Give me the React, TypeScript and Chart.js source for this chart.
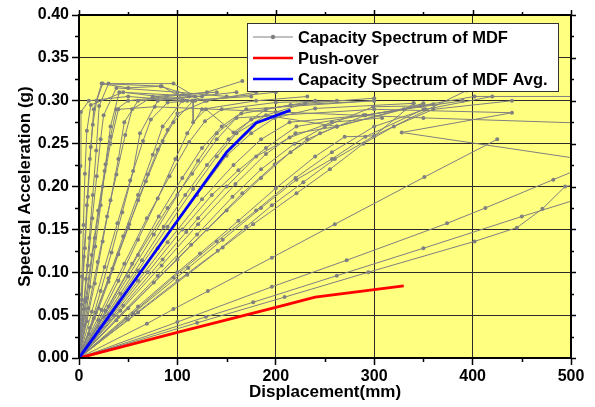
import { useEffect, useRef } from 'react';
import { Chart, registerables } from 'chart.js';

Chart.register(...registerables);

type P = [number, number];

// ---- Capacity Spectrum of MDF (individual records) ----
const mdf01: P[] = [[0, 0], [0.5, 0.074], [1, 0.147], [1.5, 0.224], [2, 0.287], [10, 0.3], [50, 0.305], [105, 0.3]];
const mdf02: P[] = [[0, 0], [1.5, 0.04], [3, 0.095], [4.5, 0.155], [6, 0.215], [8, 0.265], [12, 0.295], [45, 0.31], [115, 0.3]];
const mdf03: P[] = [[0, 0], [2.5, 0.062], [5, 0.118], [8, 0.178], [11, 0.232], [14, 0.272], [18, 0.3], [24, 0.32], [83, 0.317], [128, 0.3]];
const mdf04: P[] = [[0, 0], [3.5, 0.045], [7, 0.092], [10.5, 0.14], [14, 0.19], [17.5, 0.242], [20.5, 0.294], [30, 0.32], [96, 0.32], [118, 0.305]];
const mdf05: P[] = [[0, 0], [4.5, 0.057], [9, 0.108], [13.5, 0.163], [18, 0.212], [22, 0.255], [25, 0.283], [38, 0.315], [100, 0.31], [150, 0.305]];
const mdf06: P[] = [[0, 0], [5.5, 0.038], [11, 0.083], [16.5, 0.13], [22, 0.178], [27, 0.226], [32, 0.27], [41, 0.31], [125, 0.305]];
const mdf07: P[] = [[0, 0], [6.5, 0.066], [13, 0.12], [19.5, 0.172], [26, 0.218], [32, 0.258], [38, 0.29], [50, 0.3], [130, 0.31], [166, 0.323]];
const mdf08: P[] = [[0, 0], [8, 0.043], [16, 0.087], [24, 0.136], [32, 0.184], [40, 0.232], [46, 0.275], [60, 0.3], [112, 0.305]];
const mdf09: P[] = [[0, 0], [9.5, 0.058], [19, 0.112], [28.5, 0.165], [38, 0.214], [47, 0.26], [54, 0.29], [75, 0.305], [140, 0.31]];
const mdf10: P[] = [[0, 0], [11, 0.035], [22, 0.078], [33, 0.123], [44, 0.17], [55, 0.218], [62, 0.262], [80, 0.3], [160, 0.31]];
const mdf11: P[] = [[0, 0], [13, 0.054], [26, 0.106], [39, 0.157], [52, 0.207], [65, 0.253], [73, 0.278], [90, 0.298], [118, 0.3], [200, 0.31]];
const mdf12: P[] = [[0, 0], [15, 0.046], [30, 0.093], [45, 0.142], [60, 0.19], [75, 0.237], [85, 0.27], [105, 0.3], [175, 0.305]];
const mdf13: P[] = [[0, 0], [17, 0.053], [34, 0.104], [51, 0.156], [68, 0.206], [85, 0.253], [96, 0.275], [116, 0.3], [116, 0.275], [129, 0.29], [157, 0.263], [190, 0.29], [240, 0.3]];
const mdf14: P[] = [[0, 0], [20, 0.044], [40, 0.09], [60, 0.138], [80, 0.186], [98, 0.232], [110, 0.262], [125, 0.29], [180, 0.3], [232, 0.305]];
const mdf15: P[] = [[0, 0], [23, 0.056], [46, 0.11], [69, 0.163], [92, 0.212], [112, 0.252], [128, 0.276], [145, 0.29], [200, 0.298], [262, 0.3]];
const mdf16: P[] = [[0, 0], [3, 0.068], [6, 0.128], [9, 0.188], [12, 0.246], [15, 0.29], [23, 0.32], [50, 0.315], [84, 0.317], [110, 0.3]];
const mdf17: P[] = [[0, 0], [25, 0.048], [50, 0.095], [76, 0.144], [100, 0.19], [121, 0.23], [140, 0.262], [165, 0.285], [215, 0.295], [300, 0.3]];
const mdf18: P[] = [[0, 0], [30, 0.051], [60, 0.102], [90, 0.153], [116, 0.197], [140, 0.235], [160, 0.262], [190, 0.283], [262, 0.27]];
const mdf19: P[] = [[0, 0], [40, 0.064], [80, 0.128], [120, 0.19], [150, 0.236], [175, 0.262], [199, 0.28], [240, 0.291], [340, 0.297]];
const mdf20: P[] = [[0, 0], [30, 0.045], [60, 0.09], [90, 0.135], [125, 0.185], [157, 0.225], [185, 0.255], [214, 0.275], [291, 0.283], [402, 0.305], [510, 0.305]];
const mdf21: P[] = [[0, 0], [45, 0.061], [85, 0.115], [109, 0.147], [121, 0.163], [150, 0.2], [180, 0.235], [214, 0.257], [257, 0.275], [308, 0.28]];
const mdf22: P[] = [[0, 0], [40, 0.048], [80, 0.096], [120, 0.144], [156, 0.188], [185, 0.22], [219, 0.25], [250, 0.27], [299, 0.293], [347, 0.294]];
const mdf23: P[] = [[0, 0], [50, 0.058], [100, 0.115], [130, 0.15], [166, 0.192], [199, 0.226], [232, 0.255], [262, 0.27], [350, 0.297]];
const mdf24: P[] = [[0, 0], [60, 0.06], [100, 0.1], [123, 0.122], [162, 0.16], [200, 0.198], [240, 0.235], [270, 0.258], [300, 0.259], [340, 0.297]];
const mdf25: P[] = [[0, 0], [55, 0.052], [111, 0.105], [146, 0.138], [185, 0.175], [221, 0.208], [257, 0.232], [291, 0.258], [350, 0.29]];
const mdf26: P[] = [[0, 0], [50, 0.045], [100, 0.09], [141, 0.125], [170, 0.153], [196, 0.178], [228, 0.205], [260, 0.232], [300, 0.259], [394, 0.312]];
const mdf27: P[] = [[0, 0], [60, 0.053], [110, 0.097], [146, 0.129], [177, 0.156], [221, 0.192], [255, 0.22], [289, 0.25], [320, 0.27], [360, 0.29], [440, 0.3]];
const mdf28: P[] = [[0, 0], [30, 0.06], [60, 0.12], [90, 0.175], [115, 0.215], [140, 0.255], [160, 0.28], [300, 0.29], [440, 0.286], [328, 0.263], [510, 0.232]];
const mdf29: P[] = [[0, 0], [8, 0.07], [16, 0.14], [24, 0.2], [32, 0.25], [40, 0.29], [77, 0.293], [200, 0.287], [350, 0.28], [510, 0.274]];
const mdf30: P[] = [[0, 0], [69, 0.04], [96, 0.057], [131, 0.078], [196, 0.117], [260, 0.156], [351, 0.211], [425, 0.255]];
const mdf31: P[] = [[0, 0], [100, 0.042], [196, 0.083], [272, 0.114], [374, 0.157], [413, 0.175], [482, 0.208], [520, 0.226]];
const mdf32: P[] = [[0, 0], [129, 0.048], [177, 0.065], [262, 0.096], [350, 0.128], [450, 0.165], [520, 0.19]];
const mdf33: P[] = [[0, 0], [120, 0.041], [209, 0.071], [294, 0.1], [402, 0.136], [445, 0.152], [471, 0.174], [494, 0.2], [520, 0.205]];
const mdf34: P[] = [[0, 0], [27, 0.055], [54, 0.11], [81, 0.165], [105, 0.21], [125, 0.245], [145, 0.27], [170, 0.29], [300, 0.3]];
const mdf35: P[] = [[0, 0], [35, 0.05], [70, 0.1], [105, 0.15], [135, 0.19], [162, 0.219], [190, 0.245], [221, 0.27], [289, 0.283], [390, 0.3]];
const mdf36: P[] = [[0, 0], [10, 0.028], [20, 0.058], [30, 0.089], [40, 0.121], [50, 0.152], [60, 0.184], [70, 0.214], [80, 0.243], [90, 0.266], [100, 0.285], [130, 0.3], [180, 0.31]];
const mdf37: P[] = [[0, 0], [38, 0.044], [76, 0.088], [114, 0.132], [150, 0.172], [185, 0.21], [215, 0.24], [245, 0.262], [291, 0.283], [360, 0.296]];
const mdf38: P[] = [[0, 0], [42, 0.055], [84, 0.108], [121, 0.156], [159, 0.203], [190, 0.238], [220, 0.262], [262, 0.27], [330, 0.29]];
const mdf39: P[] = [[0, 0], [48, 0.046], [96, 0.094], [140, 0.136], [180, 0.172], [220, 0.21], [257, 0.24], [300, 0.27], [352, 0.29], [420, 0.305]];
const mdf40: P[] = [[0, 0], [20, 0.036], [42, 0.075], [64, 0.114], [86, 0.153], [108, 0.19], [130, 0.225], [152, 0.255], [175, 0.278], [230, 0.297], [300, 0.303]];

const mdfSeries: P[][] = [
  mdf01, mdf02, mdf03, mdf04, mdf05, mdf06, mdf07, mdf08, mdf09, mdf10, mdf11, mdf12,
  mdf13, mdf14, mdf15, mdf16, mdf17, mdf18, mdf19, mdf20, mdf21, mdf22, mdf23, mdf24,
  mdf25, mdf26, mdf27, mdf28, mdf29, mdf30, mdf31, mdf32, mdf33, mdf34, mdf35, mdf36,
  mdf37, mdf38, mdf39, mdf40,
];

// ---- Push-over ----
const pushOver: P[] = [[0, 0], [100, 0.03], [200, 0.059], [240, 0.071], [330, 0.084]];

// ---- Capacity Spectrum of MDF Avg. ----
const mdfAvg: P[] = [[0, 0], [50, 0.08], [100, 0.16], [150, 0.24], [180, 0.274], [215, 0.289]];

const xTicks = [0, 100, 200, 300, 400, 500];
const yTicks = [0, 0.05, 0.1, 0.15, 0.2, 0.25, 0.3, 0.35, 0.4];
const xMinor = [50, 150, 250, 350, 450];
const yMinor = [0.025, 0.075, 0.125, 0.175, 0.225, 0.275, 0.325, 0.375];

const legendLabels = ['Capacity Spectrum of MDF', 'Push-over', 'Capacity Spectrum of MDF Avg.'];
const xTitle = 'Displacement(mm)';
const yTitle = 'Spectral Acceleration (g)';

const FONT = '"Liberation Sans", Arial, Helvetica, sans-serif';
const GRAY = '#808080';
const RED = '#FF0000';
const BLUE = '#0000FF';

const toXY = (pts: P[]) => pts.map(([x, y]) => ({ x, y }));

const framePlugin = {
  id: 'frameAndLegend',
  beforeDraw(chart: any) {
    const { ctx, chartArea } = chart;
    const { left, top, right, bottom } = chartArea;
    ctx.save();
    ctx.fillStyle = '#FFFF80';
    ctx.fillRect(left, top, right - left, bottom - top);
    ctx.restore();
  },
  afterDraw(chart: any) {
    const { ctx, chartArea, scales } = chart;
    const { left, top, right, bottom } = chartArea;
    const xs = scales.x;
    const ys = scales.y;
    ctx.save();
    ctx.strokeStyle = '#000';
    ctx.lineWidth = 2;
    ctx.strokeRect(left, top, right - left, bottom - top);
    ctx.lineWidth = 1.5;
    ctx.beginPath();
    xMinor.forEach((v) => {
      const px = Math.round(xs.getPixelForValue(v)) + 0.5;
      ctx.moveTo(px, bottom);
      ctx.lineTo(px, bottom + 4);
      ctx.moveTo(px, top);
      ctx.lineTo(px, top - 3);
    });
    xTicks.forEach((v) => {
      const px = Math.round(xs.getPixelForValue(v)) + 0.5;
      ctx.moveTo(px, top);
      ctx.lineTo(px, top - 5);
    });
    yMinor.forEach((v) => {
      const py = Math.round(ys.getPixelForValue(v)) + 0.5;
      ctx.moveTo(left, py);
      ctx.lineTo(left - 4, py);
      ctx.moveTo(right, py);
      ctx.lineTo(right + 3, py);
    });
    yTicks.forEach((v) => {
      const py = Math.round(ys.getPixelForValue(v)) + 0.5;
      ctx.moveTo(right, py);
      ctx.lineTo(right + 5, py);
    });
    ctx.stroke();

    // legend
    const bx = 247, by = 23, bw = 311, bh = 68;
    ctx.fillStyle = '#FFFFFF';
    ctx.fillRect(bx, by, bw, bh);
    ctx.strokeStyle = '#333';
    ctx.lineWidth = 1;
    ctx.strokeRect(bx + 0.5, by + 0.5, bw, bh);
    const rows = [37, 58, 79];
    const colors = [GRAY, RED, BLUE];
    const widths = [1, 2.5, 2.5];
    rows.forEach((ry, i) => {
      ctx.strokeStyle = colors[i];
      ctx.lineWidth = widths[i];
      ctx.beginPath();
      ctx.moveTo(253, ry);
      ctx.lineTo(293, ry);
      ctx.stroke();
      if (i === 0) {
        ctx.fillStyle = GRAY;
        ctx.beginPath();
        ctx.arc(273, ry, 2.2, 0, Math.PI * 2);
        ctx.fill();
      }
      ctx.fillStyle = '#000';
      ctx.font = `bold 16.5px ${FONT}`;
      ctx.textBaseline = 'middle';
      ctx.textAlign = 'left';
      ctx.fillText(legendLabels[i], 298, ry + 1);
    });
    ctx.restore();
  },
};

export default function App() {
  const ref = useRef<HTMLCanvasElement | null>(null);
  useEffect(() => {
    document.body.style.margin = '0';
    const canvas = ref.current;
    if (!canvas) return;
    const datasets: any[] = [
      {
        label: legendLabels[2],
        data: toXY(mdfAvg),
        borderColor: BLUE,
        backgroundColor: BLUE,
        borderWidth: 2.8,
        pointRadius: 0,
        fill: false,
        tension: 0,
      },
      {
        label: legendLabels[1],
        data: toXY(pushOver),
        borderColor: RED,
        backgroundColor: RED,
        borderWidth: 2.8,
        pointRadius: 0,
        fill: false,
        tension: 0,
      },
      ...mdfSeries.map((s) => ({
        label: legendLabels[0],
        data: toXY(s),
        borderColor: GRAY,
        backgroundColor: GRAY,
        borderWidth: 1,
        pointRadius: 2,
        pointBorderWidth: 0,
        pointBackgroundColor: GRAY,
        fill: false,
        tension: 0,
      })),
    ];
    const tickFont = { family: FONT, size: 16, weight: 'bold' as const };
    const titleFont = { family: FONT, size: 17, weight: 'bold' as const };
    const chart = new Chart(canvas, {
      type: 'line',
      data: { datasets },
      plugins: [framePlugin],
      options: {
        animation: false,
        responsive: false,
        devicePixelRatio: 1,
        events: [],
        layout: { padding: { top: 15, right: 24, left: 0, bottom: 0 } },
        plugins: { legend: { display: false }, tooltip: { enabled: false } },
        scales: {
          x: {
            type: 'linear',
            min: 0,
            max: 500,
            afterBuildTicks: (s: any) => {
              s.ticks = xTicks.map((v) => ({ value: v }));
            },
            afterFit: (s: any) => {
              s.height = 49;
            },
            ticks: { font: tickFont, color: '#000', padding: 2, maxRotation: 0, autoSkip: false },
            grid: { color: '#2a2a2a', lineWidth: 1, tickLength: 7, tickColor: '#000', tickWidth: 1.5 },
            border: { display: true, color: '#000', width: 2 },
            title: { display: true, text: xTitle, font: titleFont, color: '#000', padding: { top: 0, bottom: 4 } },
          },
          y: {
            type: 'linear',
            min: 0,
            max: 0.4,
            afterBuildTicks: (s: any) => {
              s.ticks = yTicks.map((v) => ({ value: v }));
            },
            afterFit: (s: any) => {
              s.width = 79;
            },
            ticks: {
              font: tickFont,
              color: '#000',
              padding: 3,
              autoSkip: false,
              callback: (v: any) => Number(v).toFixed(2),
            },
            grid: { color: '#2a2a2a', lineWidth: 1, tickLength: 7, tickColor: '#000', tickWidth: 1.5 },
            border: { display: true, color: '#000', width: 2 },
            title: { display: true, text: yTitle, font: titleFont, color: '#000', padding: { top: 15, bottom: 0 } },
          },
        },
      } as any,
    });
    return () => chart.destroy();
  }, []);
  return <canvas ref={ref} width={595} height={407} style={{ display: 'block' }} />;
}
